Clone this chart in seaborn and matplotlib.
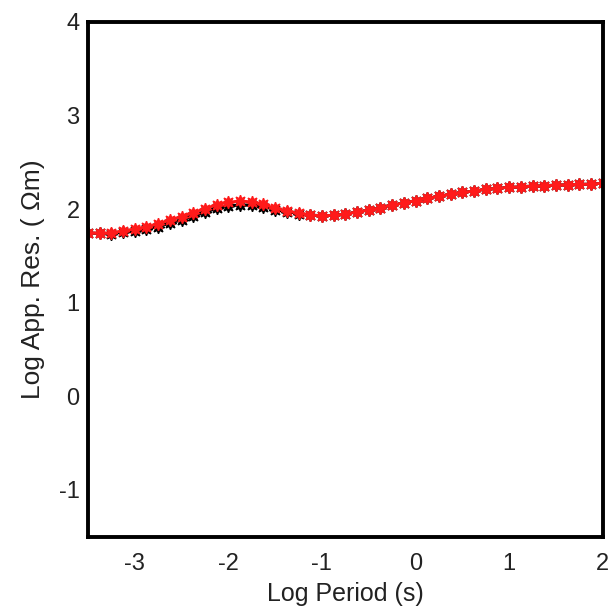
import numpy as np
import pandas as pd
import matplotlib
matplotlib.use("Agg")
import matplotlib.pyplot as plt
import seaborn as sns
from matplotlib.ticker import MultipleLocator

log_period = [-3.5, -3.375, -3.25, -3.125, -3.0, -2.875, -2.75, -2.625, -2.5, -2.375,
              -2.25, -2.125, -2.0, -1.875, -1.75, -1.625, -1.5, -1.375, -1.25, -1.125,
              -1.0, -0.875, -0.75, -0.625, -0.5, -0.375, -0.25, -0.125, 0.0, 0.125,
              0.25, 0.375, 0.5, 0.625, 0.75, 0.875, 1.0, 1.125, 1.25, 1.375,
              1.5, 1.625, 1.75, 1.875, 2.0]

red_res = [1.749, 1.746, 1.749, 1.767, 1.788, 1.813, 1.842, 1.885, 1.920, 1.963,
           2.005, 2.048, 2.074, 2.088, 2.078, 2.052, 2.010, 1.981, 1.956, 1.938,
           1.931, 1.935, 1.949, 1.970, 1.991, 2.016, 2.042, 2.069, 2.091, 2.116,
           2.138, 2.160, 2.180, 2.194, 2.212, 2.223, 2.234, 2.240, 2.248, 2.251,
           2.259, 2.262, 2.266, 2.269, 2.277]

black_res = [1.749, 1.741, 1.739, 1.752, 1.768, 1.788, 1.812, 1.850, 1.885, 1.923,
             1.965, 2.008, 2.034, 2.048, 2.043, 2.027, 1.995, 1.973, 1.953, 1.938,
             1.931, 1.935, 1.949, 1.970, 1.991, 2.016, 2.042, 2.069, 2.091, 2.116,
             2.138, 2.160, 2.180, 2.194, 2.212, 2.223, 2.234, 2.240, 2.248, 2.251,
             2.259, 2.262, 2.266, 2.269, 2.277]

x_ticks = [-3, -2, -1, 0, 1, 2]
y_ticks = [-1, 0, 1, 2, 3, 4]

sns.set_style("white")
plt.rcParams['font.family'] = ['Liberation Sans', 'DejaVu Sans']

fig = plt.figure(figsize=(6.15, 6.10), dpi=100)
ax = fig.add_axes([0.143, 0.12, 0.837, 0.844])

df_black = pd.DataFrame({"x": log_period, "y": black_res})
df_red = pd.DataFrame({"x": log_period, "y": red_res})

mk = (8, 1, 0)
sns.lineplot(data=df_black, x="x", y="y", ax=ax, color="black", lw=2,
             marker=mk, markersize=9, markeredgewidth=1, markeredgecolor="black")
sns.lineplot(data=df_red, x="x", y="y", ax=ax, color="#ff1a1a", lw=2,
             marker=mk, markersize=9, markeredgewidth=1, markeredgecolor="#ff1a1a")

ax.set_xlim(-3.5, 2)
ax.set_ylim(-1.5, 4)
ax.set_xticks(x_ticks)
ax.set_xticklabels([str(v) for v in x_ticks])
ax.set_yticks(y_ticks)
ax.set_yticklabels([str(v) for v in y_ticks])
ax.xaxis.set_minor_locator(MultipleLocator(0.5))
ax.yaxis.set_minor_locator(MultipleLocator(0.5))
ax.tick_params(which='both', direction='in', colors='#999999', labelcolor='#222222',
               labelsize=17)
ax.tick_params(axis='x', which='major', pad=12)
ax.tick_params(axis='y', which='major', pad=6)
ax.tick_params(which='major', length=4, width=0.8)
ax.tick_params(which='minor', length=3, width=0.8)
for s in ax.spines.values():
    s.set_linewidth(2.8)
    s.set_color('black')
ax.set_xlabel("Log Period (s)", fontsize=18, labelpad=5, color='#222222')
ax.set_ylabel("Log App. Res. ( \u03a9m)", fontsize=19, labelpad=10, color='#222222')

fig.savefig("out.png", dpi=100)
